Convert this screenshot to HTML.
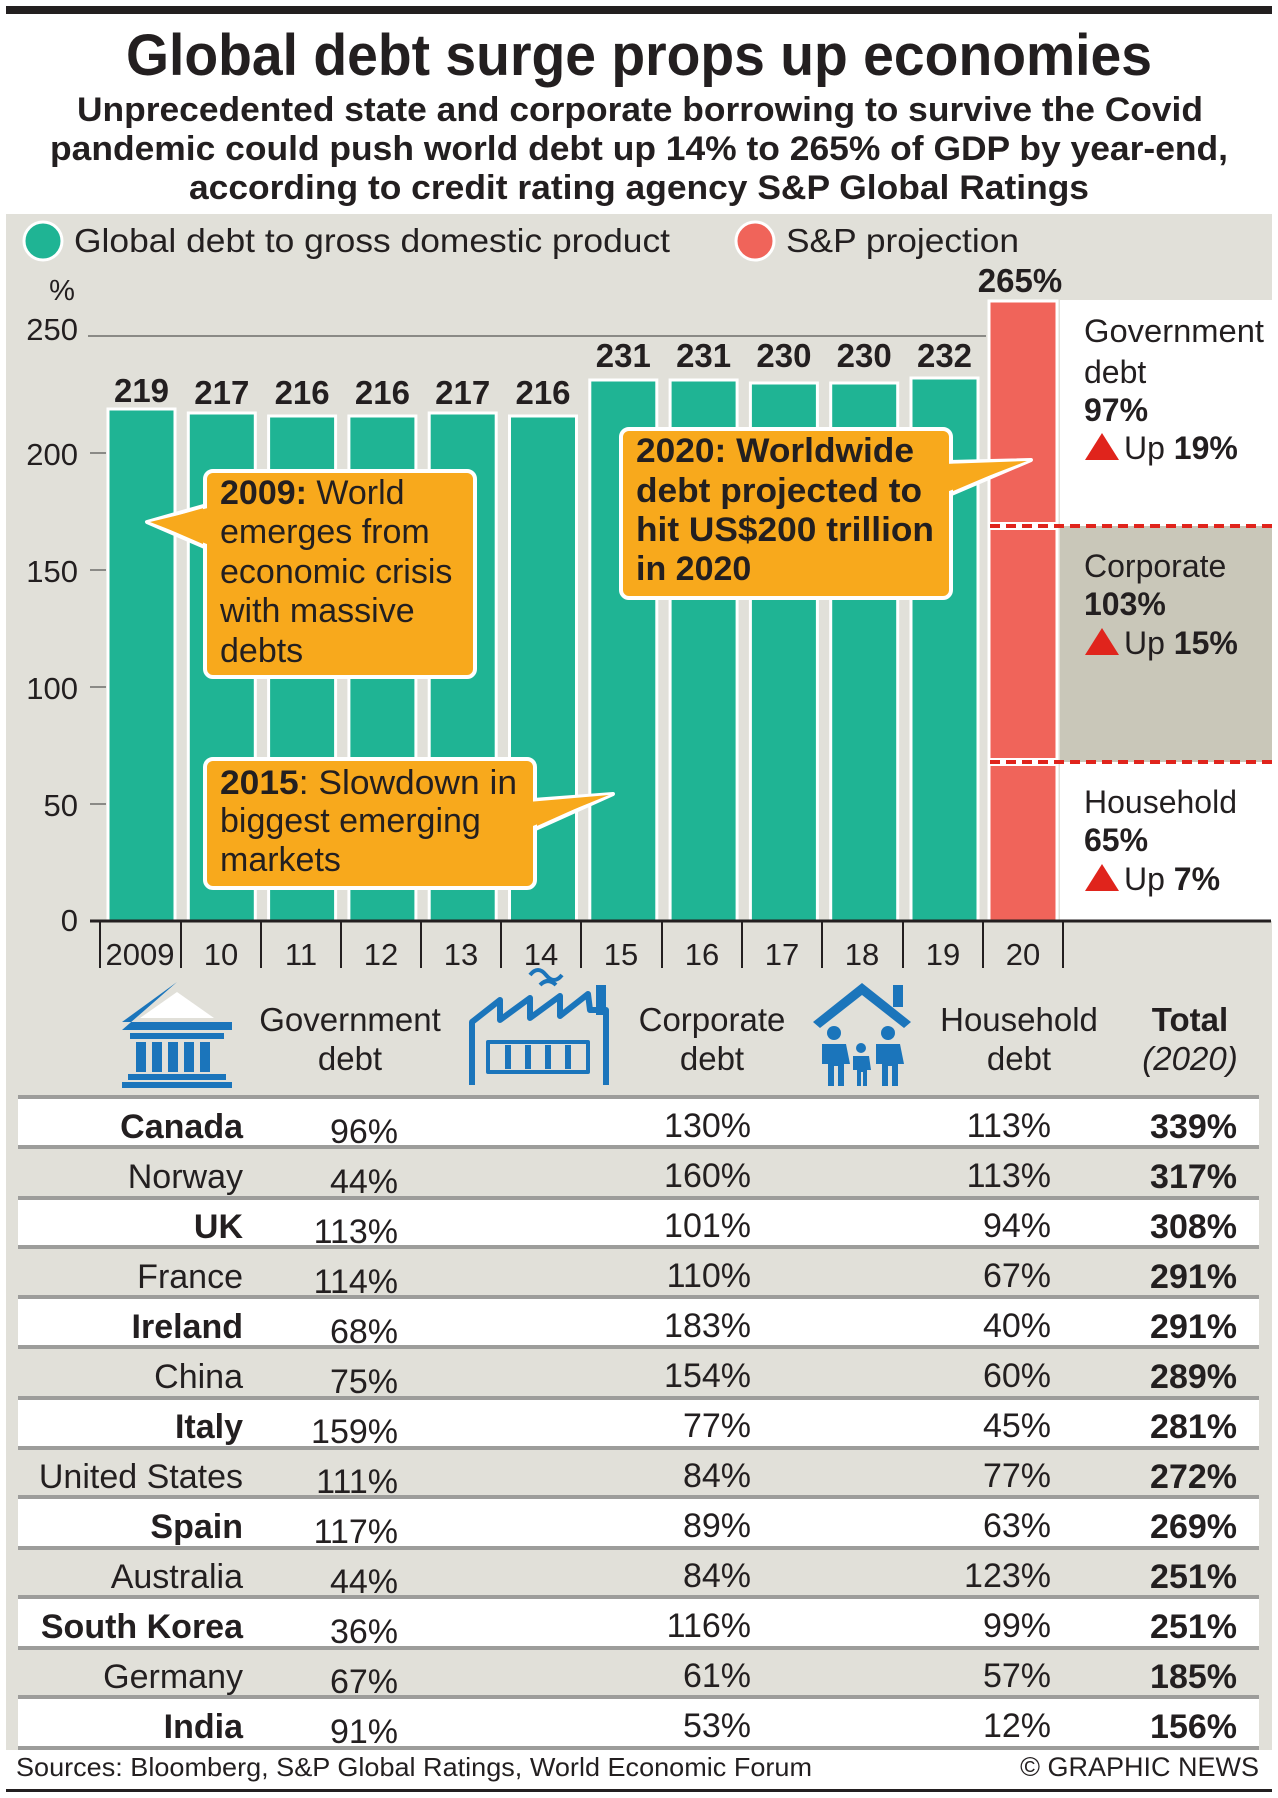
<!DOCTYPE html>
<html><head><meta charset="utf-8"><style>
html,body{margin:0;padding:0;background:#fff}
svg{display:block}
text{font-family:"Liberation Sans",sans-serif;fill:#231f20}
.b{font-weight:bold}
</style></head><body>
<svg width="1278" height="1798" viewBox="0 0 1278 1798" xmlns="http://www.w3.org/2000/svg">
<rect x="6" y="6" width="1266" height="8" fill="#231f20"/>
<text x="639" y="75" text-anchor="middle" class="b" font-size="58" textLength="1026" lengthAdjust="spacingAndGlyphs">Global debt surge props up economies</text>
<text x="640" y="121" text-anchor="middle" class="b" font-size="34" textLength="1126" lengthAdjust="spacingAndGlyphs">Unprecedented state and corporate borrowing to survive the Covid</text>
<text x="639" y="160" text-anchor="middle" class="b" font-size="34" textLength="1178" lengthAdjust="spacingAndGlyphs">pandemic could push world debt up 14% to 265% of GDP by year-end,</text>
<text x="639" y="199" text-anchor="middle" class="b" font-size="34" textLength="900" lengthAdjust="spacingAndGlyphs">according to credit rating agency S&amp;P Global Ratings</text>
<rect x="6" y="214" width="1266" height="1536" fill="#e1e0d9"/>
<circle cx="43" cy="241" r="19" fill="#1fb494" stroke="#fff" stroke-width="3"/>
<text x="74" y="252" font-size="33" textLength="596" lengthAdjust="spacingAndGlyphs">Global debt to gross domestic product</text>
<circle cx="755" cy="241" r="19" fill="#f0645a" stroke="#fff" stroke-width="3"/>
<text x="786" y="252" font-size="33" textLength="233" lengthAdjust="spacingAndGlyphs">S&amp;P projection</text>
<rect x="1060" y="300" width="212" height="621" fill="#fff"/>
<rect x="1060" y="526" width="212" height="236" fill="#c9c7b9"/>
<text x="62" y="300" text-anchor="middle" font-size="29">%</text>
<g font-size="31" text-anchor="end">
<text x="78" y="340">250</text><text x="78" y="465">200</text><text x="78" y="582">150</text><text x="78" y="699">100</text><text x="78" y="816">50</text><text x="78" y="931">0</text>
</g>
<g stroke="#8a8a86" stroke-width="2">
<line x1="88" y1="336" x2="986" y2="336"/>
<line x1="90" y1="453" x2="106" y2="453"/><line x1="90" y1="570" x2="106" y2="570"/><line x1="90" y1="687" x2="106" y2="687"/><line x1="90" y1="804" x2="106" y2="804"/>
</g>
<g fill="#1fb494" stroke="#fff" stroke-width="3">
<rect x="108" y="409" width="67" height="512"/>
<rect x="188.3" y="413" width="67" height="508"/>
<rect x="268.6" y="416" width="67" height="505"/>
<rect x="348.9" y="416" width="67" height="505"/>
<rect x="429.2" y="413" width="67" height="508"/>
<rect x="509.5" y="416" width="67" height="505"/>
<rect x="589.8" y="380" width="67" height="541"/>
<rect x="670.1" y="380" width="67" height="541"/>
<rect x="750.4" y="383" width="67" height="538"/>
<rect x="830.7" y="383" width="67" height="538"/>
<rect x="911" y="378" width="67" height="543"/>
</g>
<rect x="989" y="301" width="68" height="620" fill="#f0645a" stroke="#fff" stroke-width="3"/>
<g stroke="#fff" stroke-width="8"><line x1="989" y1="526" x2="1057" y2="526"/><line x1="989" y1="762" x2="1057" y2="762"/></g>
<g stroke="#e0241c" stroke-width="4" stroke-dasharray="10 6"><line x1="990" y1="526" x2="1272" y2="526"/><line x1="990" y1="762" x2="1272" y2="762"/></g>
<g class="b" font-size="33" text-anchor="middle">
<text x="141.5" y="402">219</text><text x="221.8" y="404">217</text><text x="302.1" y="404">216</text><text x="382.4" y="404">216</text><text x="462.7" y="404">217</text><text x="543" y="404">216</text>
<text x="623.3" y="367">231</text><text x="703.6" y="367">231</text><text x="783.9" y="367">230</text><text x="864.2" y="367">230</text><text x="944.5" y="367">232</text>
<text x="1020" y="292">265%</text>
</g>
<g font-size="32">
<text x="1084" y="342" textLength="180" lengthAdjust="spacingAndGlyphs">Government</text><text x="1084" y="383">debt</text>
<text x="1084" y="421" class="b">97%</text>
<text x="1084" y="577">Corporate</text><text x="1084" y="615" class="b">103%</text>
<text x="1084" y="813">Household</text><text x="1084" y="851" class="b">65%</text>
<text x="1124" y="459">Up <tspan class="b">19%</tspan></text>
<text x="1124" y="654">Up <tspan class="b">15%</tspan></text>
<text x="1124" y="890">Up <tspan class="b">7%</tspan></text>
</g>
<g fill="#e0241c"><polygon points="1085,460 1102,433 1119,460"/><polygon points="1085,655 1102,628 1119,655"/><polygon points="1085,891 1102,864 1119,891"/></g>
<line x1="90" y1="921" x2="1271" y2="921" stroke="#231f20" stroke-width="3"/>
<g stroke="#231f20" stroke-width="2">
<line x1="100" y1="921" x2="100" y2="968"/><line x1="181" y1="921" x2="181" y2="968"/><line x1="261" y1="921" x2="261" y2="968"/><line x1="341" y1="921" x2="341" y2="968"/><line x1="421" y1="921" x2="421" y2="968"/><line x1="501" y1="921" x2="501" y2="968"/><line x1="581" y1="921" x2="581" y2="968"/><line x1="662" y1="921" x2="662" y2="968"/><line x1="742" y1="921" x2="742" y2="968"/><line x1="822" y1="921" x2="822" y2="968"/><line x1="903" y1="921" x2="903" y2="968"/><line x1="983" y1="921" x2="983" y2="968"/><line x1="1063" y1="921" x2="1063" y2="968"/>
</g>
<g font-size="31" text-anchor="middle">
<text x="140" y="965">2009</text><text x="221" y="965">10</text><text x="301" y="965">11</text><text x="381" y="965">12</text><text x="461" y="965">13</text><text x="541" y="965">14</text><text x="621" y="965">15</text><text x="702" y="965">16</text><text x="782" y="965">17</text><text x="862" y="965">18</text><text x="943" y="965">19</text><text x="1023" y="965">20</text>
</g>
<g fill="#f8a91c" stroke="#fff" stroke-width="4" stroke-linejoin="round">
<polygon points="207,505 147,522 207,548"/>
<rect x="205" y="471" width="270" height="206" rx="8"/>
<polygon points="949,462 1031,460 949,495"/>
<rect x="621" y="429" width="330" height="169" rx="8"/>
<polygon points="533,800 613,794 533,830"/>
<rect x="205" y="759" width="330" height="129" rx="8"/>
</g>
<g fill="#f8a91c"><polygon points="212,507 150,522 212,546"/><polygon points="944,464 1027,461 944,493"/><polygon points="528,802 609,795 528,828"/></g>
<g font-size="34">
<text x="220" y="504"><tspan class="b">2009:</tspan> World</text>
<text x="220" y="543">emerges from</text>
<text x="220" y="583">economic crisis</text>
<text x="220" y="622">with massive</text>
<text x="220" y="662">debts</text>
<text x="220" y="794" textLength="297" lengthAdjust="spacingAndGlyphs"><tspan class="b">2015</tspan>: Slowdown in</text>
<text x="220" y="832">biggest emerging</text>
<text x="220" y="871">markets</text>
<g class="b"><text x="636" y="462" textLength="278" lengthAdjust="spacingAndGlyphs">2020: Worldwide</text><text x="636" y="502" textLength="286" lengthAdjust="spacingAndGlyphs">debt projected to</text><text x="636" y="541" textLength="298" lengthAdjust="spacingAndGlyphs">hit US$200 trillion</text><text x="636" y="580">in 2020</text></g>
</g>
<g fill="#1b75bb">
<polygon points="177,982 122,1022 232,1022 232,1030 122,1030"/>
<polygon points="177,992 140,1018 214,1018" fill="#fff"/>
<rect x="130" y="1033" width="94" height="6"/>
<rect x="136" y="1042" width="10" height="30"/><rect x="152" y="1042" width="10" height="30"/><rect x="168" y="1042" width="10" height="30"/><rect x="184" y="1042" width="10" height="30"/><rect x="200" y="1042" width="10" height="30"/>
<rect x="128" y="1074" width="98" height="6"/><rect x="122" y="1082" width="110" height="6"/>
</g>
<g fill="none" stroke="#1b75bb" stroke-width="6" stroke-linejoin="round">
<polyline points="472,1085 472,1022 500,1000 500,1020 530,998 530,1018 560,996 560,1016 588,994 590,1010 606,1010 606,1085"/>
<rect x="488" y="1042" width="100" height="30" stroke-width="4"/>
<path d="M530,975 q8,-10 16,0 t16,0 M540,985 q8,-8 16,0" stroke-width="4"/>
</g>
<g fill="#1b75bb">
<rect x="596" y="985" width="10" height="30"/>
<rect x="505" y="1045" width="6" height="24"/><rect x="525" y="1045" width="6" height="24"/><rect x="545" y="1045" width="6" height="24"/><rect x="565" y="1045" width="6" height="24"/>
</g>
<g fill="#1b75bb">
<polygon points="862,983 813,1022 820,1028 862,995 904,1028 911,1022"/>
<rect x="893" y="985" width="10" height="22"/>
<circle cx="834" cy="1033" r="7"/><path d="M822,1044 h24 l4,20 h-6 v22 h-6 v-20 h-4 v20 h-6 v-22 h-6z"/>
<circle cx="888" cy="1033" r="7"/><path d="M876,1044 h24 l4,20 h-6 v22 h-6 v-20 h-4 v20 h-6 v-22 h-6z"/>
<circle cx="861" cy="1048" r="5"/><path d="M853,1056 h16 l2,14 h-4 v16 h-4 v-14 h-2 v14 h-4 v-16 h-4z"/>
</g>
<g font-size="33" text-anchor="middle">
<text x="350" y="1031">Government</text><text x="350" y="1070">debt</text>
<text x="712" y="1031">Corporate</text><text x="712" y="1070">debt</text>
<text x="1019" y="1031">Household</text><text x="1019" y="1070">debt</text>
<text x="1190" y="1031" class="b">Total</text><text x="1190" y="1070" font-style="italic">(2020)</text>
</g>
<g fill="#fff">
<rect x="18" y="1097" width="1241" height="50"/><rect x="18" y="1198" width="1241" height="49"/><rect x="18" y="1297" width="1241" height="50"/><rect x="18" y="1398" width="1241" height="50"/><rect x="18" y="1497" width="1241" height="51"/><rect x="18" y="1597" width="1241" height="51"/><rect x="18" y="1697" width="1241" height="51"/>
</g>
<g stroke="#9d9d9b" stroke-width="4">
<line x1="18" y1="1097" x2="1259" y2="1097"/><line x1="18" y1="1147" x2="1259" y2="1147"/><line x1="18" y1="1198" x2="1259" y2="1198"/><line x1="18" y1="1247" x2="1259" y2="1247"/><line x1="18" y1="1297" x2="1259" y2="1297"/><line x1="18" y1="1347" x2="1259" y2="1347"/><line x1="18" y1="1398" x2="1259" y2="1398"/><line x1="18" y1="1448" x2="1259" y2="1448"/><line x1="18" y1="1497" x2="1259" y2="1497"/><line x1="18" y1="1548" x2="1259" y2="1548"/><line x1="18" y1="1597" x2="1259" y2="1597"/><line x1="18" y1="1648" x2="1259" y2="1648"/><line x1="18" y1="1697" x2="1259" y2="1697"/><line x1="18" y1="1748" x2="1259" y2="1748"/>
</g>
<g font-size="34" text-anchor="end">
<g>
<text x="243" y="1138" class="b">Canada</text><text x="243" y="1188">Norway</text><text x="243" y="1238" class="b">UK</text><text x="243" y="1288">France</text><text x="243" y="1338" class="b">Ireland</text><text x="243" y="1388">China</text><text x="243" y="1438" class="b">Italy</text><text x="243" y="1488">United States</text><text x="243" y="1538" class="b">Spain</text><text x="243" y="1588">Australia</text><text x="243" y="1638" class="b">South Korea</text><text x="243" y="1688">Germany</text><text x="243" y="1738" class="b">India</text>
</g>
<g>
<text x="398" y="1143">96%</text><text x="398" y="1193">44%</text><text x="398" y="1243">113%</text><text x="398" y="1293">114%</text><text x="398" y="1343">68%</text><text x="398" y="1393">75%</text><text x="398" y="1443">159%</text><text x="398" y="1493">111%</text><text x="398" y="1543">117%</text><text x="398" y="1593">44%</text><text x="398" y="1643">36%</text><text x="398" y="1693">67%</text><text x="398" y="1743">91%</text>
</g>
<g>
<text x="751" y="1137">130%</text><text x="751" y="1187">160%</text><text x="751" y="1237">101%</text><text x="751" y="1287">110%</text><text x="751" y="1337">183%</text><text x="751" y="1387">154%</text><text x="751" y="1437">77%</text><text x="751" y="1487">84%</text><text x="751" y="1537">89%</text><text x="751" y="1587">84%</text><text x="751" y="1637">116%</text><text x="751" y="1687">61%</text><text x="751" y="1737">53%</text>
</g>
<g>
<text x="1051" y="1137">113%</text><text x="1051" y="1187">113%</text><text x="1051" y="1237">94%</text><text x="1051" y="1287">67%</text><text x="1051" y="1337">40%</text><text x="1051" y="1387">60%</text><text x="1051" y="1437">45%</text><text x="1051" y="1487">77%</text><text x="1051" y="1537">63%</text><text x="1051" y="1587">123%</text><text x="1051" y="1637">99%</text><text x="1051" y="1687">57%</text><text x="1051" y="1737">12%</text>
</g>
<g class="b">
<text x="1237" y="1138">339%</text><text x="1237" y="1188">317%</text><text x="1237" y="1238">308%</text><text x="1237" y="1288">291%</text><text x="1237" y="1338">291%</text><text x="1237" y="1388">289%</text><text x="1237" y="1438">281%</text><text x="1237" y="1488">272%</text><text x="1237" y="1538">269%</text><text x="1237" y="1588">251%</text><text x="1237" y="1638">251%</text><text x="1237" y="1688">185%</text><text x="1237" y="1738">156%</text>
</g>
</g>
<text x="16" y="1776" font-size="26" textLength="796" lengthAdjust="spacingAndGlyphs">Sources: Bloomberg, S&amp;P Global Ratings, World Economic Forum</text>
<text x="1259" y="1776" font-size="27" text-anchor="end">© GRAPHIC NEWS</text>
<rect x="6" y="1789" width="1266" height="3" fill="#231f20"/>
</svg>
</body></html>
